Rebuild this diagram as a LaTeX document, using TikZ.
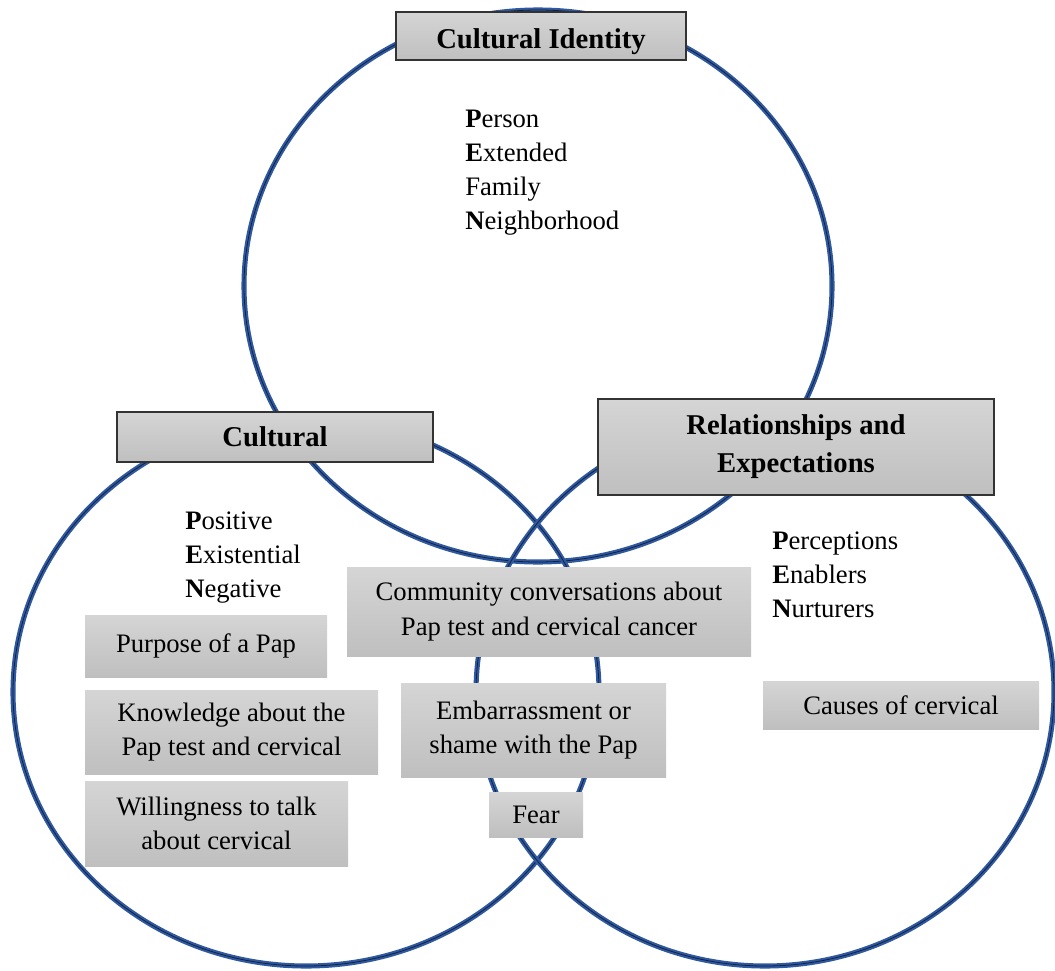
\documentclass[tikz,border=0pt]{standalone}
\usepackage{fontspec}
\setmainfont{Liberation Serif}
\definecolor{ringblue}{HTML}{2E58A0}
\definecolor{ringdark}{HTML}{14213D}
\definecolor{boxtop}{HTML}{D5D5D5}
\definecolor{boxbot}{HTML}{BFBFBF}
\tikzset{
  ring/.style={draw=ringblue, line width=3.8pt, postaction={draw=ringdark, line width=0.6pt}},
  graybox/.style={top color=boxtop, bottom color=boxbot, inner sep=0pt, align=center,
    font=\fontsize{20}{26}\selectfont},
  titlebox/.style={graybox, draw=black!80, line width=1pt,
    font=\fontsize{21.5}{28.5}\selectfont\bfseries},
  pentext/.style={inner sep=0pt, align=left, anchor=north west,
    font=\fontsize{20}{25.5}\selectfont}
}

\begin{document}
\begin{tikzpicture}[x=0.75pt,y=-0.75pt]
  \useasboundingbox (0,0) rectangle (1055,970);
  % the three circles
  \draw [ring] (538,286) ellipse [x radius=294, y radius=276];
  \draw [ring] (306,692) ellipse [x radius=293, y radius=274];
  \draw [ring] (765,692) ellipse [x radius=289, y radius=274];

  % headings
  \node [titlebox, minimum width=217.5pt, minimum height=36pt, text height=23.5pt, text depth=4.6pt] (identity) at (541,36) {Cultural Identity};
  \node [titlebox, minimum width=237pt, minimum height=37.5pt] (cultural) at (275,437) {Cultural};
  \node [titlebox, minimum width=297pt, minimum height=72pt] (relations) at (796,447) {Relationships and\\Expectations};

  % PEN lists
  \node [pentext] (person) at (465,110) {\textbf{P}erson\\\textbf{E}xtended\\Family\\\textbf{N}eighborhood};
  \node [pentext] (positive) at (185,512) {\textbf{P}ositive\\\textbf{E}xistential\\\textbf{N}egative};
  \node [pentext] (perceptions) at (772,532) {\textbf{P}erceptions\\\textbf{E}nablers\\\textbf{N}urturers};

  % themes
  \node [graybox, minimum width=303pt, minimum height=66.75pt] (community) at (549,611.5) {Community conversations about\\Pap test and cervical cancer};
  \node [graybox, minimum width=181.5pt, minimum height=46.5pt] (purpose) at (206,646) {Purpose of a Pap};
  \node [graybox, minimum width=219.75pt, minimum height=63pt] (knowledge) at (231.5,732) {Knowledge about the\\Pap test and cervical};
  \node [graybox, minimum width=197.25pt, minimum height=63.75pt] (willing) at (216.5,823.5) {Willingness to talk\\about cervical};
  \node [graybox, minimum width=198.75pt, minimum height=70.5pt] (shame) at (533.5,730) {Embarrassment or\\shame with the Pap};
  \node [graybox, minimum width=70.5pt, minimum height=33.75pt] (fear) at (536,814.5) {Fear};
  \node [graybox, minimum width=207pt, minimum height=36pt] (causes) at (901,705) {Causes of cervical};
\end{tikzpicture}
\end{document}
